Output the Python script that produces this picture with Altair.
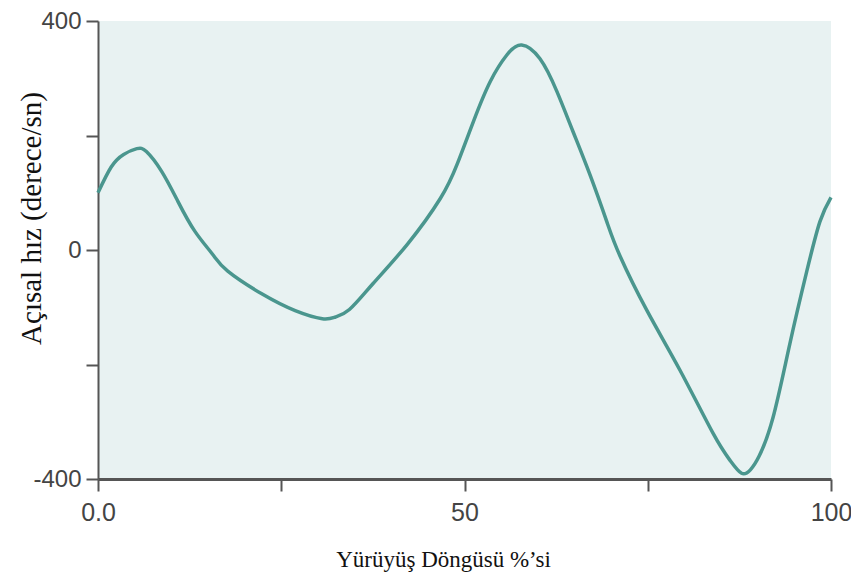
import altair as alt
import pandas as pd

# Gait cycle percentage (x) and angular velocity (deg/s)
x_pct = [0, 1.8, 3.5, 5.3, 6.6, 8.7, 10.9, 13.2, 15.6, 17.7, 22.4, 26.9, 30.6, 32.4,
         34.3, 37.5, 42.2, 46.7, 49, 51.2, 53.5, 55.8, 57.8, 60.3, 62.6, 64.8,
         67.1, 69.4, 71.2, 74.9, 79.4, 83.9, 86.2, 87.8, 89.0, 90.2, 92.1, 94.4,
         96.7, 98.5, 100]
y_vel = [100, 145, 167, 177, 172, 137, 85, 33, -7, -37, -77, -106, -120, -117,
         -104, -59, 10, 90, 150, 224, 294, 341, 358, 334, 277, 207,
         132, 50, -10, -106, -210, -320, -367, -390, -384, -360, -292, -163,
         -37, 50, 92]

x_ticks = [0, 25, 50, 75, 100]
y_ticks = [-400, -200, 0, 200, 400]

x_title = "Yürüyüş Döngüsü %’si"
y_title = "Açısal hız (derece/sn)"

df = pd.DataFrame({"x": x_pct, "y": y_vel})

chart = alt.Chart(df).mark_line(
    color="#4a968e", strokeWidth=3.5, interpolate="natural"
).encode(
    x=alt.X("x:Q",
            scale=alt.Scale(domain=[0, 100], nice=False, zero=False),
            axis=alt.Axis(
                values=x_ticks,
                labelExpr="datum.value == 0 ? '0.0' : (datum.value % 50 == 0 ? '' + datum.value : '')",
                title=x_title,
                titleFont="Liberation Serif", titleFontSize=23, titleFontWeight="normal",
                titleColor="#111111",
                titleX=345, titleY=80, titleAlign="center", titleBaseline="middle",
                labelFont="Liberation Sans", labelFontSize=25, labelColor="#444444",
                labelPadding=9, labelFlush=False,
                domainColor="#555555", domainWidth=3,
                tickColor="#555555", tickWidth=2, tickSize=12,
                grid=False,
            )),
    y=alt.Y("y:Q",
            scale=alt.Scale(domain=[-400, 400], nice=False, zero=False),
            axis=alt.Axis(
                values=y_ticks,
                labelExpr="datum.value % 400 == 0 ? '' + datum.value : ''",
                title=y_title,
                titleFont="Liberation Serif", titleFontSize=29, titleFontWeight="normal",
                titleColor="#111111",
                titleX=-67, titleY=197, titleAlign="center", titleBaseline="middle",
                labelFont="Liberation Sans", labelFontSize=24, labelColor="#444444",
                labelPadding=5, labelFlush=False,
                domainColor="#555555", domainWidth=2,
                tickColor="#555555", tickWidth=2, tickSize=12,
                grid=False,
            )),
).properties(
    width=733, height=458,
    background="white",
    autosize=alt.AutoSizeParams(type="none"),
    padding={"left": 90, "top": 13, "right": 20, "bottom": 94},
).configure_view(
    fill="#e8f2f2", stroke=None
)

chart.save("out.html", embed_options={"renderer": "svg", "actions": False})
